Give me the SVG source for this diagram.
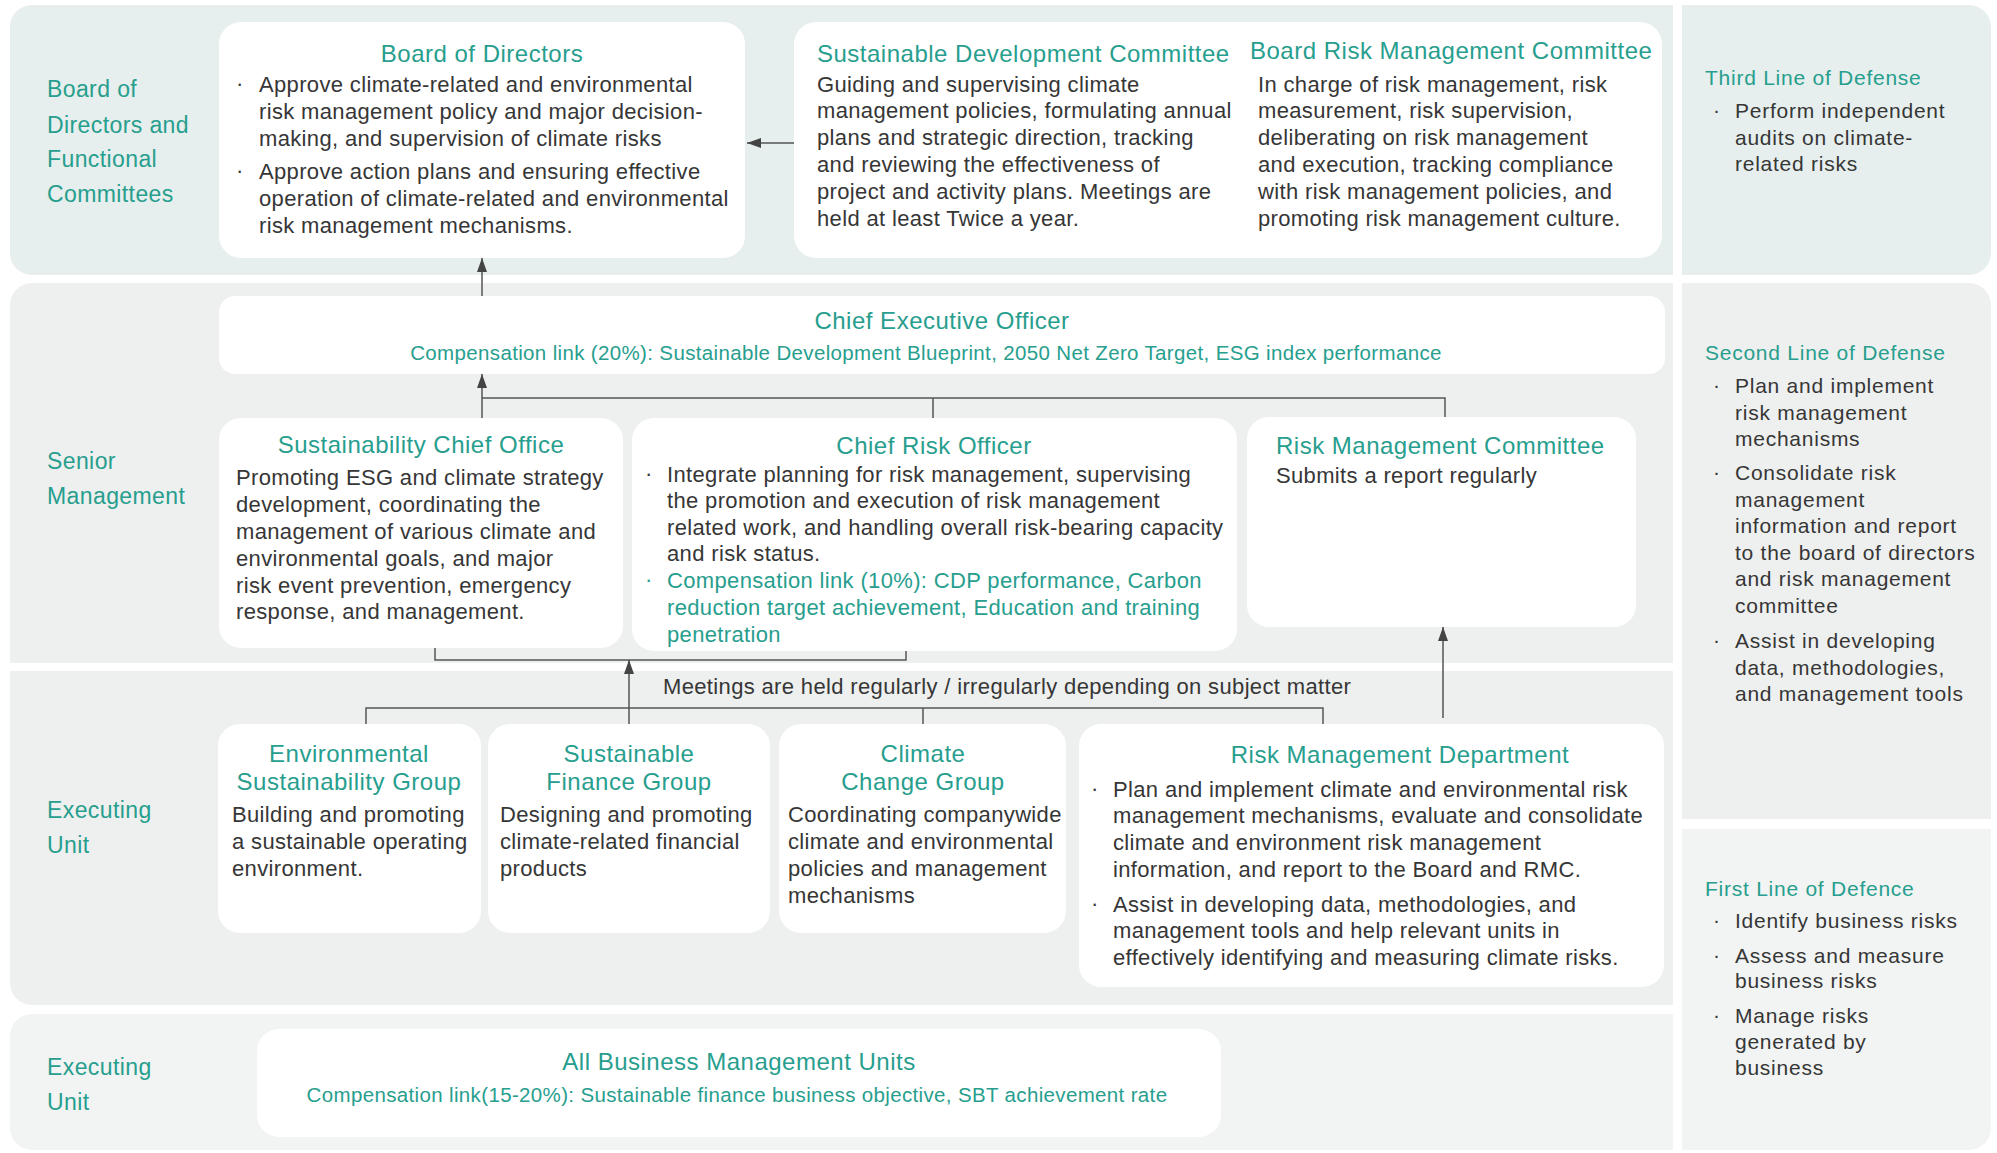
<svg xmlns="http://www.w3.org/2000/svg" width="1997" height="1153" viewBox="0 0 1997 1153">
  <defs>
    <style>
      text { font-family: "Liberation Sans", Arial, sans-serif; }
      .band-a { fill: #e6efed; }
      .band-b { fill: #eef0ef; }
      .band-c { fill: #f1f4f3; }
      .box { fill: #ffffff; }
      .lbl { fill: #279e8e; font-size: 23px; letter-spacing: 0.4px; }
      .ttl { fill: #279e8e; font-size: 24px; letter-spacing: 0.5px; }
      .body { fill: #363636; font-size: 22px; letter-spacing: 0.35px; }
      .green { fill: #279e8e; }
      .comp { fill: #279e8e; font-size: 20.5px; letter-spacing: 0.35px; }
      .side-t { fill: #279e8e; font-size: 21px; letter-spacing: 0.75px; }
      .side { fill: #363636; font-size: 21px; letter-spacing: 0.75px; }
      .mid { text-anchor: middle; }
      .conn { fill: none; stroke: #555555; stroke-width: 1.5; }
    </style>
    <marker id="arrow" markerUnits="userSpaceOnUse" markerWidth="14" markerHeight="10" refX="14" refY="5" orient="auto">
      <path d="M0,0 L14,5 L0,10 Z" fill="#444444"/>
    </marker>
  </defs>

  <rect width="1997" height="1153" fill="#ffffff"/>

  <!-- tier bands -->
  <g id="bands">
    <path class="band-a" d="M32,5 H1673 V275 H32 A22,22 0 0 1 10,253 V27 A22,22 0 0 1 32,5 Z"/>
    <path class="band-b" d="M32,283 H1673 V663 H10 V305 A22,22 0 0 1 32,283 Z"/>
    <path class="band-b" d="M10,671 H1673 V1005 H32 A22,22 0 0 1 10,983 Z"/>
    <path class="band-c" d="M32,1014 H1673 V1150 H32 A22,22 0 0 1 10,1128 V1036 A22,22 0 0 1 32,1014 Z"/>
    <path class="band-a" d="M1682,5 H1969 A22,22 0 0 1 1991,27 V253 A22,22 0 0 1 1969,275 H1682 Z"/>
    <path class="band-b" d="M1682,283 H1969 A22,22 0 0 1 1991,305 V819 H1682 Z"/>
    <path class="band-c" d="M1682,829 H1991 V1128 A22,22 0 0 1 1969,1150 H1682 Z"/>
  </g>

  <!-- tier labels -->
  <g id="tier-labels" class="lbl">
    <text x="47" y="97">Board of</text>
    <text x="47" y="133">Directors and</text>
    <text x="47" y="167">Functional</text>
    <text x="47" y="202">Committees</text>
    <text x="47" y="469">Senior</text>
    <text x="47" y="504">Management</text>
    <text x="47" y="818">Executing</text>
    <text x="47" y="853">Unit</text>
    <text x="47" y="1075">Executing</text>
    <text x="47" y="1110">Unit</text>
  </g>

  <!-- connectors -->
  <g id="connectors" class="conn">
    <path d="M794,143 H747" marker-end="url(#arrow)"/>
    <path d="M482,296 V258" marker-end="url(#arrow)"/>
    <path d="M482,418 V374" marker-end="url(#arrow)"/>
    <path d="M482,398 H1445 V417"/>
    <path d="M933,398 V418"/>
    <path d="M435,648 V660 H906 V651"/>
    <path d="M629,724 V660" marker-end="url(#arrow)"/>
    <path d="M366,724 V708 H1323 V724"/>
    <path d="M923,708 V724"/>
    <path d="M1443,718 V627" marker-end="url(#arrow)"/>
  </g>

  <g id="board-of-directors">
    <rect class="box" x="219" y="22" width="526" height="236" rx="22"/>
    <text class="ttl mid" x="482" y="62">Board of Directors</text>
    <g class="body">
      <text x="236" y="91">·</text>
      <text x="259" y="92">Approve climate-related and environmental</text>
      <text x="259" y="119">risk management policy and major decision-</text>
      <text x="259" y="146">making, and supervision of climate risks</text>
      <text x="236" y="178">·</text>
      <text x="259" y="179">Approve action plans and ensuring effective</text>
      <text x="259" y="206">operation of climate-related and environmental</text>
      <text x="259" y="233">risk management mechanisms.</text>
    </g>
  </g>

  <g id="board-committees">
    <rect class="box" x="794" y="22" width="868" height="236" rx="22"/>
    <text class="ttl" x="817" y="62">Sustainable Development Committee</text>
    <g class="body">
      <text x="817" y="92">Guiding and supervising climate</text>
      <text x="817" y="118">management policies, formulating annual</text>
      <text x="817" y="145">plans and strategic direction, tracking</text>
      <text x="817" y="172">and reviewing the effectiveness of</text>
      <text x="817" y="199">project and activity plans. Meetings are</text>
      <text x="817" y="226">held at least Twice a year.</text>
    </g>
    <text class="ttl" x="1250" y="59">Board Risk Management Committee</text>
    <g class="body">
      <text x="1258" y="92">In charge of risk management, risk</text>
      <text x="1258" y="118">measurement, risk supervision,</text>
      <text x="1258" y="145">deliberating on risk management</text>
      <text x="1258" y="172">and execution, tracking compliance</text>
      <text x="1258" y="199">with risk management policies, and</text>
      <text x="1258" y="226">promoting risk management culture.</text>
    </g>
  </g>

  <g id="third-line">
    <text class="side-t" x="1705" y="85">Third Line of Defense</text>
    <g class="side">
      <text x="1713" y="117">·</text>
      <text x="1735" y="118">Perform independent</text>
      <text x="1735" y="145">audits on climate-</text>
      <text x="1735" y="171">related risks</text>
    </g>
  </g>

  <g id="ceo">
    <rect class="box" x="219" y="296" width="1446" height="78" rx="16"/>
    <text class="ttl mid" x="942" y="329">Chief Executive Officer</text>
    <text class="comp mid" x="926" y="360">Compensation link (20%): Sustainable Development Blueprint, 2050 Net Zero Target, ESG index performance</text>
  </g>

  <g id="sustainability-chief-office">
    <rect class="box" x="219" y="418" width="404" height="230" rx="22"/>
    <text class="ttl mid" x="421" y="453">Sustainability Chief Office</text>
    <g class="body">
      <text x="236" y="485">Promoting ESG and climate strategy</text>
      <text x="236" y="512">development, coordinating the</text>
      <text x="236" y="539">management of various climate and</text>
      <text x="236" y="566">environmental goals, and major</text>
      <text x="236" y="593">risk event prevention, emergency</text>
      <text x="236" y="619">response, and management.</text>
    </g>
  </g>

  <g id="chief-risk-officer">
    <rect class="box" x="632" y="418" width="605" height="233" rx="22"/>
    <text class="ttl mid" x="934" y="454">Chief Risk Officer</text>
    <g class="body">
      <text x="645" y="481">·</text>
      <text x="667" y="482">Integrate planning for risk management, supervising</text>
      <text x="667" y="508">the promotion and execution of risk management</text>
      <text x="667" y="535">related work, and handling overall risk-bearing capacity</text>
      <text x="667" y="561">and risk status.</text>
      <text class="green" x="645" y="587">·</text>
      <text class="green" x="667" y="588">Compensation link (10%): CDP performance, Carbon</text>
      <text class="green" x="667" y="615">reduction target achievement, Education and training</text>
      <text class="green" x="667" y="642">penetration</text>
    </g>
  </g>

  <g id="risk-management-committee">
    <rect class="box" x="1247" y="417" width="389" height="210" rx="22"/>
    <text class="ttl" x="1276" y="454">Risk Management Committee</text>
    <text class="body" x="1276" y="483">Submits a report regularly</text>
  </g>

  <g id="second-line">
    <text class="side-t" x="1705" y="360">Second Line of Defense</text>
    <g class="side">
      <text x="1713" y="392">·</text>
      <text x="1735" y="393">Plan and implement</text>
      <text x="1735" y="420">risk management</text>
      <text x="1735" y="446">mechanisms</text>
      <text x="1713" y="479">·</text>
      <text x="1735" y="480">Consolidate risk</text>
      <text x="1735" y="507">management</text>
      <text x="1735" y="533">information and report</text>
      <text x="1735" y="560">to the board of directors</text>
      <text x="1735" y="586">and risk management</text>
      <text x="1735" y="613">committee</text>
      <text x="1713" y="647">·</text>
      <text x="1735" y="648">Assist in developing</text>
      <text x="1735" y="675">data, methodologies,</text>
      <text x="1735" y="701">and management tools</text>
    </g>
  </g>

  <text id="meeting-note" class="body" x="663" y="694">Meetings are held regularly / irregularly depending on subject matter</text>

  <g id="environmental-sustainability-group">
    <rect class="box" x="218" y="724" width="263" height="209" rx="22"/>
    <text class="ttl mid" x="349" y="762">Environmental</text>
    <text class="ttl mid" x="349" y="790">Sustainability Group</text>
    <g class="body">
      <text x="232" y="822">Building and promoting</text>
      <text x="232" y="849">a sustainable operating</text>
      <text x="232" y="876">environment.</text>
    </g>
  </g>

  <g id="sustainable-finance-group">
    <rect class="box" x="488" y="724" width="282" height="209" rx="22"/>
    <text class="ttl mid" x="629" y="762">Sustainable</text>
    <text class="ttl mid" x="629" y="790">Finance Group</text>
    <g class="body">
      <text x="500" y="822">Designing and promoting</text>
      <text x="500" y="849">climate-related financial</text>
      <text x="500" y="876">products</text>
    </g>
  </g>

  <g id="climate-change-group">
    <rect class="box" x="779" y="724" width="287" height="209" rx="22"/>
    <text class="ttl mid" x="923" y="762">Climate</text>
    <text class="ttl mid" x="923" y="790">Change Group</text>
    <g class="body">
      <text x="788" y="822">Coordinating companywide</text>
      <text x="788" y="849">climate and environmental</text>
      <text x="788" y="876">policies and management</text>
      <text x="788" y="903">mechanisms</text>
    </g>
  </g>

  <g id="risk-management-department">
    <rect class="box" x="1079" y="724" width="585" height="263" rx="22"/>
    <text class="ttl mid" x="1400" y="763">Risk Management Department</text>
    <g class="body">
      <text x="1091" y="796">·</text>
      <text x="1113" y="797">Plan and implement climate and environmental risk</text>
      <text x="1113" y="823">management mechanisms, evaluate and consolidate</text>
      <text x="1113" y="850">climate and environment risk management</text>
      <text x="1113" y="877">information, and report to the Board and RMC.</text>
      <text x="1091" y="911">·</text>
      <text x="1113" y="912">Assist in developing data, methodologies, and</text>
      <text x="1113" y="938">management tools and help relevant units in</text>
      <text x="1113" y="965">effectively identifying and measuring climate risks.</text>
    </g>
  </g>

  <g id="first-line">
    <text class="side-t" x="1705" y="896">First Line of Defence</text>
    <g class="side">
      <text x="1713" y="927">·</text>
      <text x="1735" y="928">Identify business risks</text>
      <text x="1713" y="962">·</text>
      <text x="1735" y="963">Assess and measure</text>
      <text x="1735" y="988">business risks</text>
      <text x="1713" y="1022">·</text>
      <text x="1735" y="1023">Manage risks</text>
      <text x="1735" y="1049">generated by</text>
      <text x="1735" y="1075">business</text>
    </g>
  </g>

  <g id="all-business-management-units">
    <rect class="box" x="257" y="1029" width="964" height="108" rx="22"/>
    <text class="ttl mid" x="739" y="1070">All Business Management Units</text>
    <text class="comp mid" x="737" y="1102">Compensation link(15-20%): Sustainable finance business objective, SBT achievement rate</text>
  </g>
</svg>
